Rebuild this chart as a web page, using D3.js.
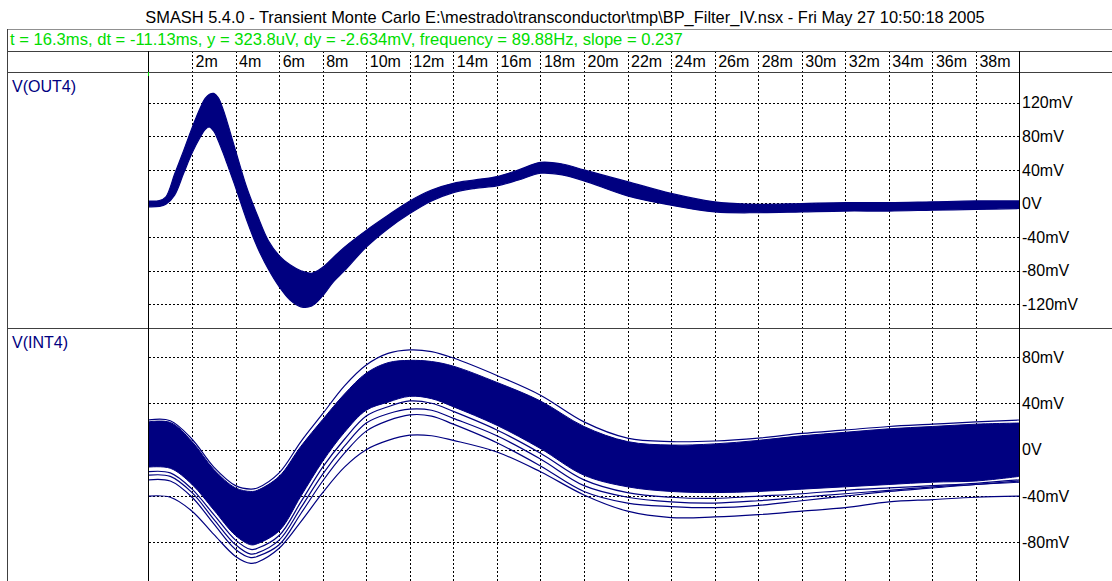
<!DOCTYPE html>
<html>
<head>
<meta charset="utf-8">
<script src="https://cdn.jsdelivr.net/npm/d3@7"></script>
<style>
  body { margin: 0; background: #fff; }
  svg text { font-family: "Liberation Sans", Arial, sans-serif; }
</style>
</head>
<body>
<svg id="chart" width="1112" height="581"></svg>
<script>
//---------------------------- data ----------------------------
var titleText = "SMASH 5.4.0 - Transient Monte Carlo E:\\mestrado\\transconductor\\tmp\\BP_Filter_IV.nsx - Fri May 27 10:50:18 2005";
var cursorText = "t = 16.3ms, dt = -11.13ms, y = 323.8uV, dy = -2.634mV, frequency = 89.88Hz, slope = 0.237";

var xTicks = [2, 4, 6, 8, 10, 12, 14, 16, 18, 20, 22, 24, 26, 28, 30, 32, 34, 36, 38];   // ms
var out4Ticks = [120, 80, 40, 0, -40, -80, -120];   // mV
var int4Ticks = [80, 40, 0, -40, -80];               // mV

// V(OUT4): envelope of the monte carlo bundle (ms / mV)
var tOut = [0, 0.5, 0.8, 1.2, 1.6, 2.0, 2.4, 2.6, 2.8, 3.0, 3.2, 3.4, 3.6, 4.0, 4.5, 5.0, 5.5, 6.0, 6.5, 7.0, 7.5, 8.0, 8.5,
  9, 10, 11, 12, 13, 14, 15, 16, 17, 18, 19, 20, 22, 24, 26, 28, 30, 32, 34, 36, 38, 40];
var out4Upper = [3, 3.5, 8, 35, 62, 90, 115, 125, 130, 131, 126, 114, 98, 63, 20, -14, -44, -62, -73, -80, -83, -76, -64,
  -52, -32, -14, 3, 16, 24, 28, 32, 40, 49, 47, 40, 26, 12, 2, -1, 0, 1, 1, 2, 3, 3];
var out4Lower = [-4, -3.5, -1, 10, 35, 60, 80, 88, 91, 86, 75, 62, 48, 19, -19, -52, -78, -99, -115, -123, -122, -110, -93,
  -80, -52, -30, -12, 3, 13, 18, 21, 28, 36, 34, 27, 9, -2, -10, -11, -10, -9, -9, -8, -7, -6];

// V(INT4): top run, dense core, the few runs below it and the lowest run
var tInt = [0, 1, 2, 3, 4, 4.7, 5, 6, 7, 8, 9, 10, 11, 12, 13, 14, 16, 18, 20, 22, 24, 26, 28, 30, 32, 34, 36, 38, 40];
var int4Top = [25.6, 25, 9, -15, -31, -34, -33, -20, 7, 31, 55, 73, 83, 86, 84.5, 79, 64, 47, 24, 10, 7, 7.5, 10, 14, 17, 20, 22, 24, 25.6];
var int4CoreTop = [24, 23.5, 7, -17, -33, -36, -35, -23, 3, 26, 48, 66, 75, 77, 76, 72, 58, 42, 20, 7, 4, 5, 8, 12, 15, 18, 20, 22, 23];
var int4CoreBot = [-15, -16, -30, -52, -74, -82, -81, -70, -40, -10, 15, 34, 41, 46, 44, 37, 21, 1, -22, -32, -36, -37, -36, -34, -32, -30, -28, -27, -23];
var int4Run1 = [-19, -20, -34, -56, -78, -86, -85, -74, -45, -15, 9, 29, 37, 42, 40, 33, 17, -3, -26, -37, -41, -42, -40, -38, -35, -33, -31, -29, -26];
var int4Run2 = [-22, -23, -37, -60, -82, -90, -89, -78, -50, -21, 3, 23, 31, 35, 34, 27, 12, -8, -31, -41, -45, -46, -44, -41, -38, -35, -32, -30, -27];
var int4Run3 = [-26, -27, -41, -64, -86, -93, -92, -82, -55, -27, -3, 16, 25, 30, 29, 22, 6, -14, -36, -46, -49, -50, -48, -44, -40, -36, -33, -30, -28];
var int4Low = [-40, -41, -53, -73, -92, -98, -97, -85, -62, -37, -15, 0, 8, 12.5, 12, 8, -2, -19, -39, -53, -58.5, -58, -56, -53, -50, -45, -43, -41, -40];

//---------------------------- layout ----------------------------
var W = 1112, H = 581;
var plotL = 149, plotR = 1020;
var navy = "#000080";

var svg = d3.select("#chart");
svg.append("rect").attr("width", W).attr("height", H).attr("fill", "#fff");

var x = d3.scaleLinear().domain([0, 40]).range([148.5, 1019.5]);
var panels = [
  { name: "V(OUT4)", top: 72, bottom: 328, ticks: out4Ticks,
    y: d3.scaleLinear().domain([-148.2, 156.5]).range([328, 72]) },
  { name: "V(INT4)", top: 328, bottom: 581, ticks: int4Ticks,
    y: d3.scaleLinear().domain([-113.2, 104.9]).range([581, 328]) }
];

function px(v) { return Math.round(v) + 0.5; }
function fmtMv(v) { return v === 0 ? "0V" : v + "mV"; }

//title and cursor readout
svg.append("text").attr("x", 565).attr("y", 23).attr("text-anchor", "middle")
  .attr("font-size", 16.4).attr("fill", "#000").text(titleText);
svg.append("text").attr("x", 10).attr("y", 45)
  .attr("font-size", 16.6).attr("fill", "#00dd00").text(cursorText);

//vertical grid, runs through the tick row and both panels
svg.append("g").selectAll("line").data(xTicks).enter().append("line")
  .attr("x1", function(d) { return px(x(d)); })
  .attr("x2", function(d) { return px(x(d)); })
  .attr("y1", 51).attr("y2", H)
  .attr("stroke", "#000").attr("stroke-dasharray", "2,2");

//x tick labels sit just right of each grid line
var xAxis = svg.append("g").attr("transform", "translate(0,67)")
  .call(d3.axisBottom(x).tickValues(xTicks).tickSize(0).tickFormat(function(d) { return d + "m"; }));
xAxis.select(".domain").remove();
xAxis.selectAll("text").attr("y", 0).attr("dy", 0).attr("dx", 3).attr("text-anchor", "start")
  .attr("font-size", 16).attr("font-family", null).attr("fill", "#000");

var defs = svg.append("defs");

panels.forEach(function(p, i) {
  defs.append("clipPath").attr("id", "clip" + i).append("rect")
    .attr("x", plotL).attr("y", p.top).attr("width", plotR - plotL).attr("height", p.bottom - p.top);

  //horizontal grid
  svg.append("g").selectAll("line").data(p.ticks).enter().append("line")
    .attr("x1", plotL).attr("x2", plotR)
    .attr("y1", function(d) { return px(p.y(d)); })
    .attr("y2", function(d) { return px(p.y(d)); })
    .attr("stroke", "#000").attr("stroke-dasharray", "2,2");

  //right hand value labels
  var yAxis = svg.append("g").attr("transform", "translate(" + (plotR + 1) + ",0)")
    .call(d3.axisRight(p.y).tickValues(p.ticks).tickSize(0).tickFormat(fmtMv));
  yAxis.select(".domain").remove();
  yAxis.selectAll("text").attr("x", 1).attr("font-size", 16).attr("font-family", null).attr("fill", "#000");

  svg.append("text").attr("x", 12).attr("y", p.top + 20).attr("font-size", 16)
    .attr("fill", navy).text(p.name);
});

//---------------------------- curves ----------------------------
var gOut = svg.append("g").attr("clip-path", "url(#clip0)");
var yO = panels[0].y;
var outArea = d3.area().curve(d3.curveCatmullRom)
  .x(function(d, i) { return x(tOut[i]); })
  .y0(function(d, i) { return yO(out4Lower[i]); })
  .y1(function(d) { return yO(d); });
gOut.append("path").datum(out4Upper).attr("d", outArea)
  .attr("fill", navy).attr("stroke", navy).attr("stroke-width", 1.2);

var gInt = svg.append("g").attr("clip-path", "url(#clip1)");
var yI = panels[1].y;
var intArea = d3.area().curve(d3.curveCatmullRom)
  .x(function(d, i) { return x(tInt[i]); })
  .y0(function(d, i) { return yI(int4CoreBot[i]); })
  .y1(function(d) { return yI(d); });
gInt.append("path").datum(int4CoreTop).attr("d", intArea)
  .attr("fill", navy).attr("stroke", navy).attr("stroke-width", 1);

var intLine = d3.line().curve(d3.curveCatmullRom)
  .x(function(d, i) { return x(tInt[i]); })
  .y(function(d) { return yI(d); });
gInt.selectAll(".run").data([int4Top, int4Run1, int4Run2, int4Run3, int4Low]).enter()
  .append("path").attr("class", "run").attr("d", intLine)
  .attr("fill", "none").attr("stroke", navy).attr("stroke-width", 1.2);

//---------------------------- frame ----------------------------
var frame = svg.append("g").attr("shape-rendering", "crispEdges");
frame.append("line").attr("x1", 7).attr("x2", W).attr("y1", 29.5).attr("y2", 29.5).attr("stroke", "#909090");
[51, 72, 328].forEach(function(yy) {
  frame.append("line").attr("x1", 7).attr("x2", W).attr("y1", yy + 0.5).attr("y2", yy + 0.5).attr("stroke", "#404040");
});
frame.append("line").attr("x1", 7.5).attr("x2", 7.5).attr("y1", 29).attr("y2", H).attr("stroke", "#404040");
[plotL, plotR].forEach(function(xx) {
  frame.append("line").attr("x1", xx - 0.5).attr("x2", xx - 0.5).attr("y1", 51).attr("y2", H).attr("stroke", "#000");
});
//cursor marker
frame.append("line").attr("x1", plotL - 0.5).attr("x2", plotL - 0.5).attr("y1", 72).attr("y2", 76).attr("stroke", "#00dd00");
</script>
</body>
</html>
